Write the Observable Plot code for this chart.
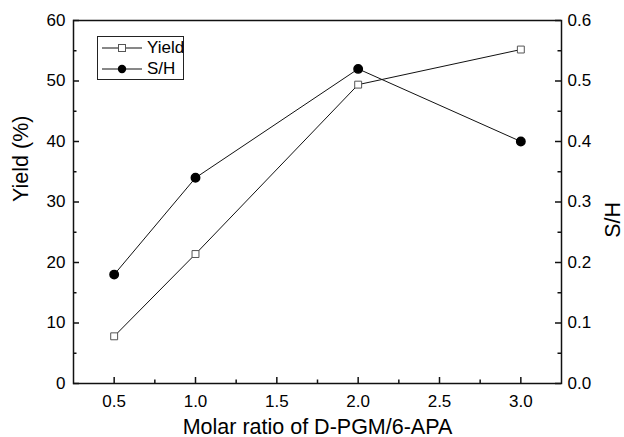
<!DOCTYPE html>
<html><head><meta charset="utf-8">
<script src="https://cdn.jsdelivr.net/npm/d3@7"></script>
<script src="https://cdn.jsdelivr.net/npm/@observablehq/plot@0.6"></script>
<style>
body{margin:0;background:#fff;}
#wrap{position:relative;width:624px;height:437px;font-family:"Liberation Sans",Arial,sans-serif;}
#legend{position:absolute;left:97px;top:36px;width:87px;height:44px;border:1.3px solid #222;background:#fff;box-sizing:border-box;font-size:17px;color:#000;}
#legend .row{position:absolute;left:4px;height:20px;display:flex;align-items:center;}
#legend svg{display:block;margin-right:3px;}
</style></head><body><div id="wrap"></div>
<script>
const ratio = [0.5, 1.0, 2.0, 3.0];
const yieldPct = [7.8, 21.4, 49.4, 55.2];
const shRatio = [0.18, 0.34, 0.52, 0.40];
const xTicks = [0.5, 1.0, 1.5, 2.0, 2.5, 3.0];
const xMinor = [0.75, 1.25, 1.75, 2.25, 2.75];
const yTicks = [0, 10, 20, 30, 40, 50, 60];
const yMinor = [5, 15, 25, 35, 45, 55];
const shTicks = [0, 0.1, 0.2, 0.3, 0.4, 0.5, 0.6];
const shMinor = [0.05, 0.15, 0.25, 0.35, 0.45, 0.55];
const seriesNames = ["Yield", "S/H"];

const SH_FACTOR = 100; // S/H (0–0.6) shares the left scale (0–60)
const yieldData = ratio.map((r, i) => ({x: r, y: yieldPct[i]}));
const shData = ratio.map((r, i) => ({x: r, y: shRatio[i] * SH_FACTOR}));

const W = 624, H = 437, ML = 73, MR = 63, MT = 20, MB = 54;
const FW = W - ML - MR, FH = H - MT - MB;
const MAJ = 6, MIN = 3.5;
const font = "Liberation Sans, Arial, sans-serif";
const tickStyle = {stroke: "#111", strokeWidth: 1.5};
const chart = Plot.plot({
  width: W, height: H,
  marginLeft: ML, marginRight: MR, marginTop: MT, marginBottom: MB,
  style: {fontFamily: font, fontSize: "17px", color: "#000", background: "#fff"},
  x: {domain: [0.25, 3.25]},
  y: {domain: [0, 60]},
  marks: [
    Plot.frame({stroke: "#111", strokeWidth: 1.5}),
    // inward ticks
    Plot.tickX(xTicks, {x: d => d, insetTop: FH - MAJ, ...tickStyle}),
    Plot.tickX(xMinor, {x: d => d, insetTop: FH - MIN, ...tickStyle}),
    Plot.tickY(yTicks, {y: d => d, insetRight: FW - MAJ, ...tickStyle}),
    Plot.tickY(yMinor, {y: d => d, insetRight: FW - MIN, ...tickStyle}),
    Plot.tickY(shTicks.map(v => v * SH_FACTOR), {y: d => d, insetLeft: FW - MAJ, ...tickStyle}),
    Plot.tickY(shMinor.map(v => v * SH_FACTOR), {y: d => d, insetLeft: FW - MIN, ...tickStyle}),
    // tick labels and titles
    Plot.axisX(xTicks, {tickSize: 0, tickPadding: 11, tickFormat: d => d.toFixed(1), label: null, fontSize: 17}),
    Plot.axisY(yTicks, {anchor: "left", tickSize: 0, tickPadding: 8, label: null, fontSize: 17}),
    Plot.axisY(shTicks.map(v => v * SH_FACTOR), {anchor: "right", tickSize: 0, tickPadding: 6, tickFormat: d => (d / SH_FACTOR).toFixed(1), label: null, fontSize: 17}),
    Plot.text(["Molar ratio of D-PGM/6-APA"], {frameAnchor: "bottom", dy: 50, lineAnchor: "bottom", fontSize: 21.5, fill: "#000"}),
    Plot.text(["Yield (%)"], {frameAnchor: "left", dx: -61, rotate: -90, lineAnchor: "top", fontSize: 21.5, fill: "#000"}),
    Plot.text(["S/H"], {frameAnchor: "right", dx: 58, rotate: -90, lineAnchor: "bottom", fontSize: 21.5, fill: "#000"}),
    // data
    Plot.line(yieldData, {x: "x", y: "y", stroke: "#111", strokeWidth: 1}),
    Plot.line(shData, {x: "x", y: "y", stroke: "#111", strokeWidth: 1}),
    Plot.dot(yieldData, {x: "x", y: "y", symbol: "square", r: 3.9, fill: "#fff", stroke: "#555", strokeWidth: 1}),
    Plot.dot(shData, {x: "x", y: "y", symbol: "circle", r: 4.2, fill: "#000", stroke: "#000"})
  ]
});
const wrap = document.getElementById("wrap");
wrap.appendChild(chart);

const legend = document.createElement("div");
legend.id = "legend";
const glyphs = [
  '<line x1="0" y1="6" x2="40" y2="6" stroke="#111" stroke-width="1"/><rect x="16.5" y="2.5" width="7" height="7" fill="#fff" stroke="#555"/>',
  '<line x1="0" y1="6" x2="40" y2="6" stroke="#111" stroke-width="1"/><circle cx="20" cy="6" r="4.2" fill="#000"/>'
];
seriesNames.forEach((name, i) => {
  const row = document.createElement("div");
  row.className = "row";
  row.style.top = (1 + i * 21) + "px";
  row.innerHTML = `<svg width="42" height="12">${glyphs[i]}</svg><span>${name}</span>`;
  legend.appendChild(row);
});
wrap.appendChild(legend);
</script>
</body></html>
